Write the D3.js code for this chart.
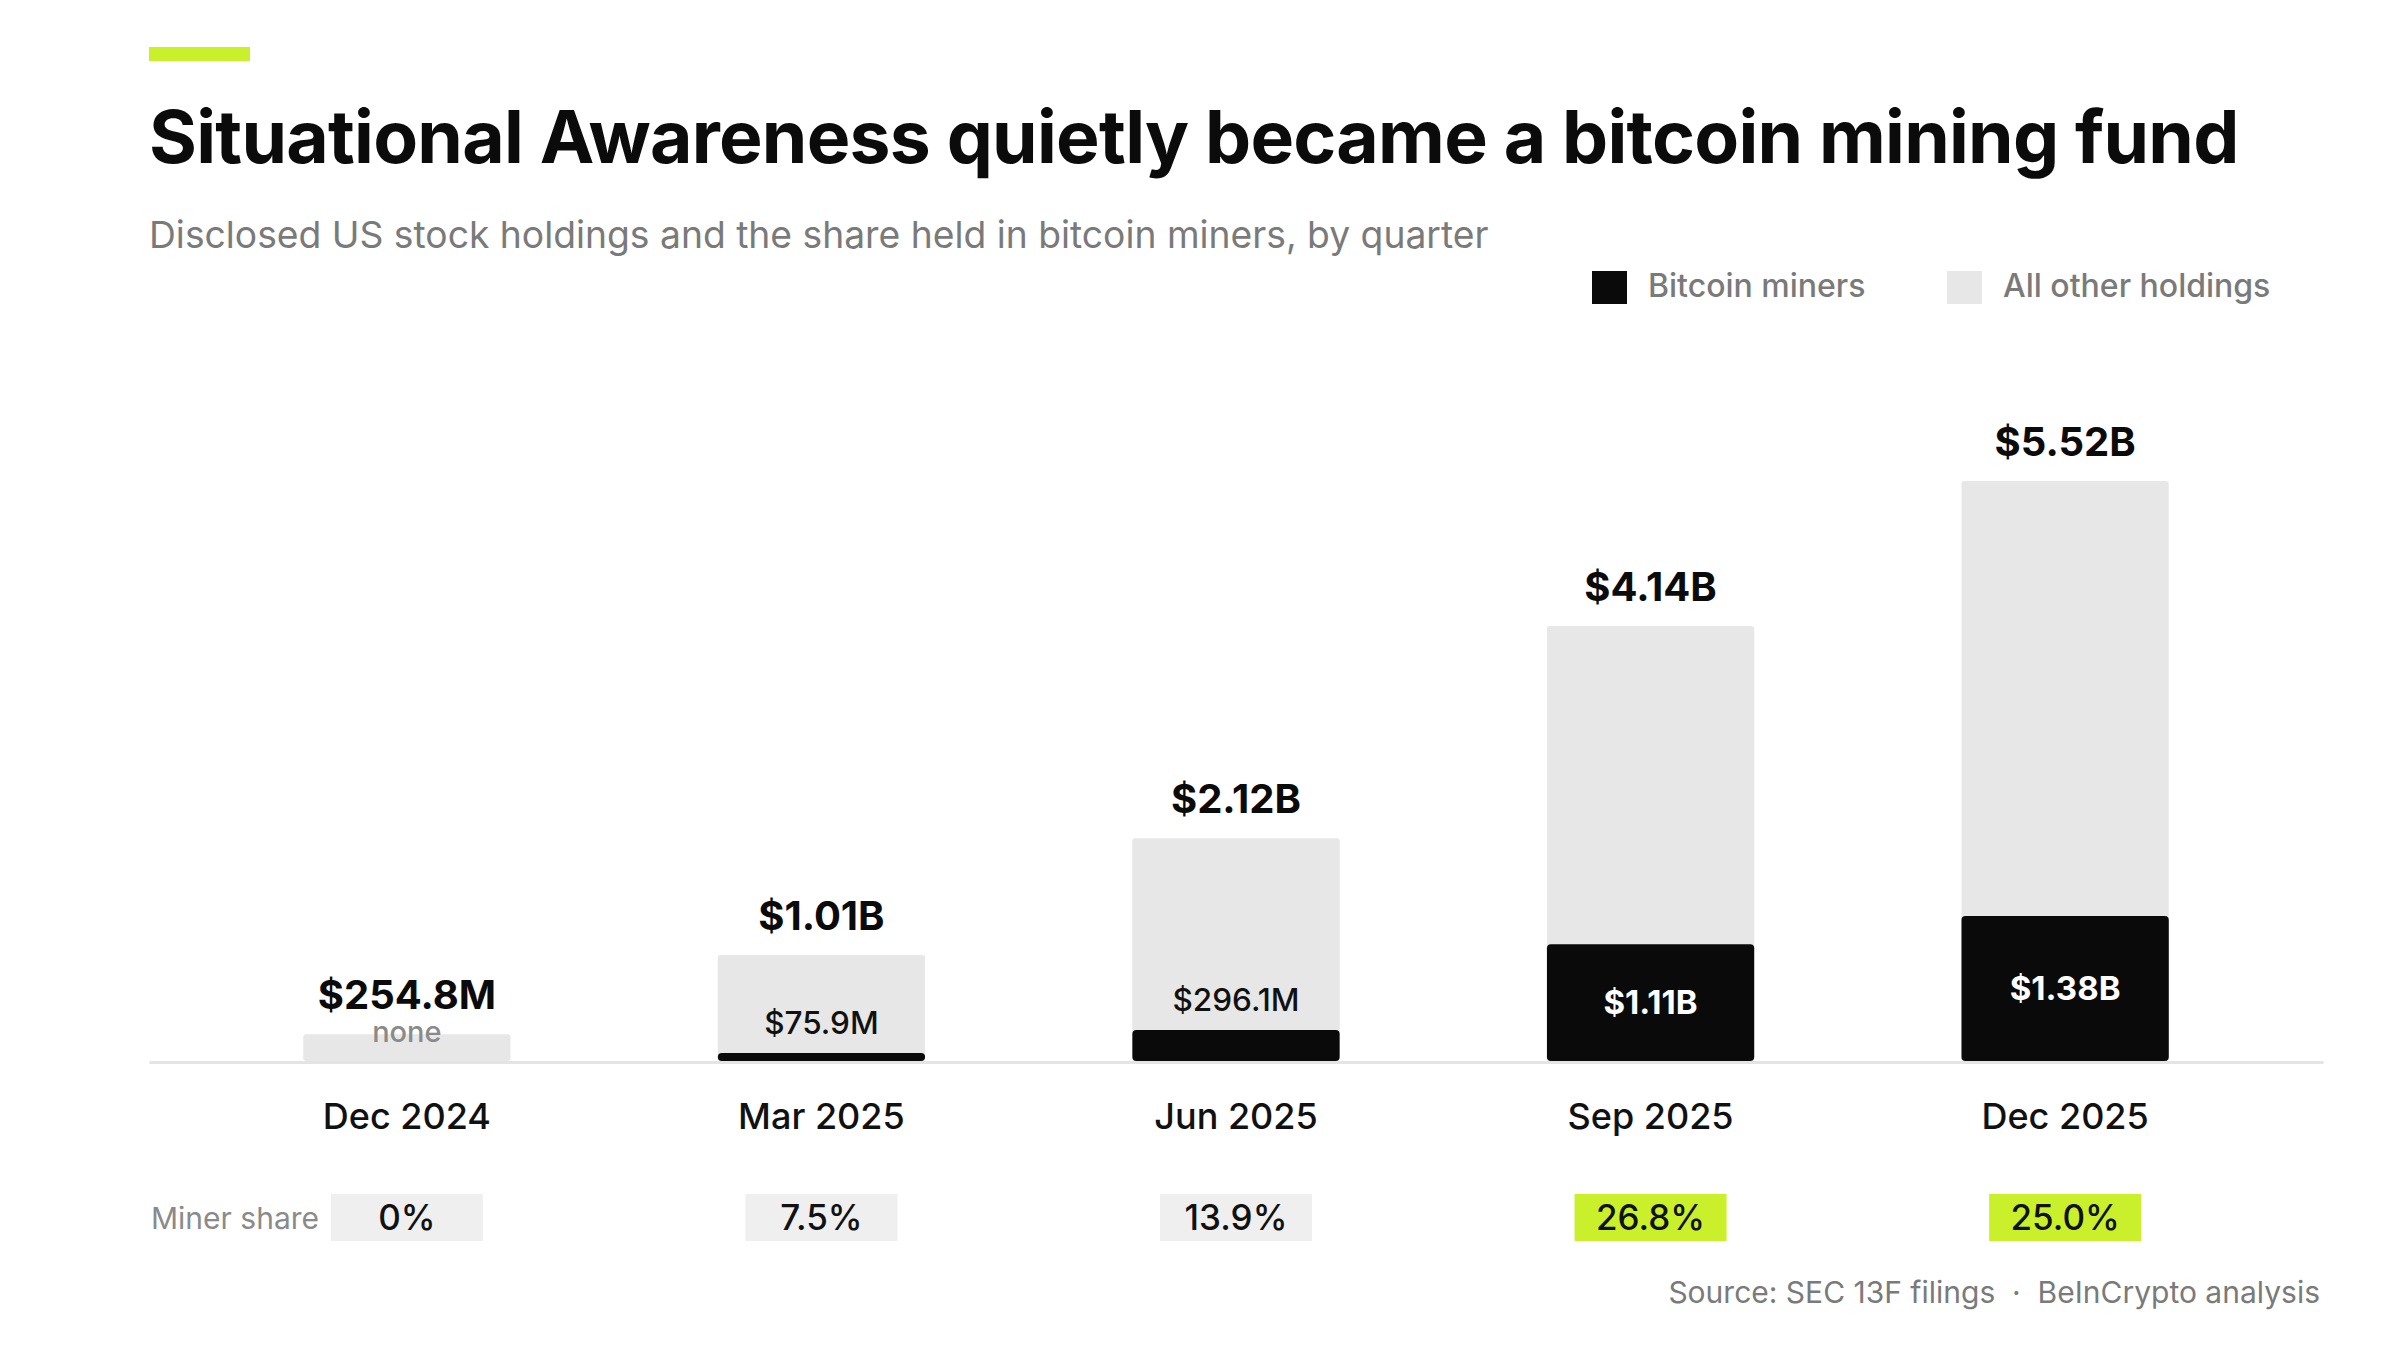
<!DOCTYPE html>
<html>
<head>
<meta charset="utf-8">
<script src="https://cdn.jsdelivr.net/npm/d3@7"></script>
<style>
  body { margin: 0; background: #fff; }
  svg { display: block; font-family: Inter, 'Noto Sans', sans-serif; }
</style>
</head>
<body>
<div class="canvas"></div>
<script>
// data, values in $ billions
const quarters = ['Dec 2024', 'Mar 2025', 'Jun 2025', 'Sep 2025', 'Dec 2025'];
const totalHoldings = [0.2548, 1.01, 2.12, 4.14, 5.52];
const minerHoldings = [0, 0.0759, 0.2961, 1.11, 1.38];
const totalLabels = ['$254.8M', '$1.01B', '$2.12B', '$4.14B', '$5.52B'];
const minerLabels = ['none', '$75.9M', '$296.1M', '$1.11B', '$1.38B'];
const minerShare = [0, 7.5, 13.9, 26.8, 25.0];
const shareLabels = ['0%', '7.5%', '13.9%', '26.8%', '25.0%'];

const width = 2400, height = 1350;
const left = 149, right = 2323, baseY = 1061;
const green = '#c9f02b', black = '#0a0a0a', light = '#e7e7e7';

const data = quarters.map((q, i) => ({
    q, total: totalHoldings[i], miner: minerHoldings[i],
    totalLabel: totalLabels[i], minerLabel: minerLabels[i],
    share: minerShare[i], shareLabel: shareLabels[i]
}));

const svg = d3.select('.canvas')
    .append('svg')
    .attr('width', width)
    .attr('height', height);

// shrink/grow a text so it spans a given width
let fitText = (sel, w) => {
    const len = sel.node().getComputedTextLength();
    const fs = parseFloat(sel.attr('font-size'));
    sel.attr('font-size', fs * w / len);
};

//## HEADER
svg.append('rect')
    .attr('x', left).attr('y', 47)
    .attr('width', 101).attr('height', 14)
    .attr('fill', green);

svg.append('text')
    .attr('x', left).attr('y', 163)
    .attr('font-size', 70).attr('font-weight', 700)
    .attr('fill', '#0b0b0b')
    .attr('letter-spacing', '-0.01em')
    .text('Situational Awareness quietly became a bitcoin mining fund')
    .call(fitText, 2090);

svg.append('text')
    .attr('x', left).attr('y', 248)
    .attr('font-size', 36)
    .attr('fill', '#7a7a7a')
    .text('Disclosed US stock holdings and the share held in bitcoin miners, by quarter')
    .call(fitText, 1340);

// legend
const legend = [
    { label: 'Bitcoin miners', color: black, x: 1592 },
    { label: 'All other holdings', color: light, x: 1947 }
];
const lg = svg.append('g').selectAll('g')
    .data(legend)
    .enter()
    .append('g')
    .attr('transform', d => `translate(${d.x}, 271)`);
lg.append('rect')
    .attr('width', 35).attr('height', 33)
    .attr('fill', d => d.color);
lg.append('text')
    .attr('x', 56).attr('y', 26)
    .attr('font-size', 32).attr('font-weight', 500)
    .attr('fill', '#7a7a7a')
    .text(d => d.label);

//## SCALES
const xScale = d3.scaleBand()
    .domain(quarters)
    .range([left, right])
    .paddingInner(0.5)
    .paddingOuter(0.372);

const yScale = d3.scaleLinear()
    .domain([0, d3.max(totalHoldings)])
    .range([baseY, 481]);

//## BARS
const bars = svg.append('g').selectAll('g')
    .data(data)
    .enter()
    .append('g');

bars.append('rect')
    .attr('x', d => xScale(d.q))
    .attr('y', d => yScale(d.total))
    .attr('width', xScale.bandwidth())
    .attr('height', d => baseY - yScale(d.total))
    .attr('rx', 3)
    .attr('fill', light);

bars.filter(d => d.miner > 0)
    .append('rect')
    .attr('x', d => xScale(d.q))
    .attr('y', d => yScale(d.miner))
    .attr('width', xScale.bandwidth())
    .attr('height', d => baseY - yScale(d.miner))
    .attr('rx', 4)
    .attr('fill', black);

// total value on top
bars.append('text')
    .attr('x', d => xScale(d.q) + xScale.bandwidth() / 2)
    .attr('y', d => yScale(d.total) - 25)
    .attr('text-anchor', 'middle')
    .attr('font-size', 40).attr('font-weight', 700)
    .attr('fill', '#0b0b0b')
    .text(d => d.totalLabel);

// miner value: inside the black part if it is tall enough, else just above it
bars.append('text')
    .attr('x', d => xScale(d.q) + xScale.bandwidth() / 2)
    .attr('y', d => {
        const h = baseY - yScale(d.miner);
        return h > 60 ? yScale(d.miner) + h / 2 + 11 : yScale(d.miner) - 19;
    })
    .attr('text-anchor', 'middle')
    .attr('font-size', d => {
        if (d.miner === 0) return 29;
        return (baseY - yScale(d.miner)) > 60 ? 33 : 31.5;
    })
    .attr('font-weight', d => (baseY - yScale(d.miner)) > 60 ? 700 : 500)
    .attr('fill', d => {
        if (d.miner === 0) return '#8a8a8a';
        return (baseY - yScale(d.miner)) > 60 ? '#fff' : '#111';
    })
    .text(d => d.minerLabel);

//## AXIS
const xAxis = d3.axisBottom(xScale).tickSize(0).tickSizeOuter(0);

svg.append('g')
    .attr('transform', `translate(0, ${baseY + 1})`)
    .attr('id', 'x-axis')
    .call(xAxis)
    .call(g => g.select('.domain')
        .attr('stroke', '#e4e4e4')
        .attr('stroke-width', 3))
    .call(g => g.selectAll('text')
        .attr('y', 67).attr('dy', 0)
        .attr('font-size', 36).attr('font-weight', 500)
        .attr('font-family', 'Inter, sans-serif')
        .attr('fill', '#111'));

//## MINER SHARE ROW
svg.append('text')
    .attr('x', 151).attr('y', 1229)
    .attr('font-size', 30)
    .attr('fill', '#8a8a8a')
    .text('Miner share');

const share = svg.append('g').selectAll('g')
    .data(data)
    .enter()
    .append('g')
    .attr('transform', d => `translate(${xScale(d.q) + xScale.bandwidth() / 2}, 0)`);

share.append('rect')
    .attr('x', -76).attr('y', 1194)
    .attr('width', 152).attr('height', 47)
    .attr('fill', d => d.share > 20 ? green : '#efefef');

share.append('text')
    .attr('y', 1230)
    .attr('text-anchor', 'middle')
    .attr('font-size', 35).attr('font-weight', 500)
    .attr('fill', '#111')
    .text(d => d.shareLabel);

//## SOURCE
svg.append('text')
    .attr('x', 2320).attr('y', 1303)
    .attr('text-anchor', 'end')
    .attr('font-size', 30)
    .attr('fill', '#7a7a7a')
    .attr('xml:space', 'preserve')
    .style('white-space', 'pre')
    .text('Source: SEC 13F filings  ·  BeInCrypto analysis');
</script>
</body>
</html>
